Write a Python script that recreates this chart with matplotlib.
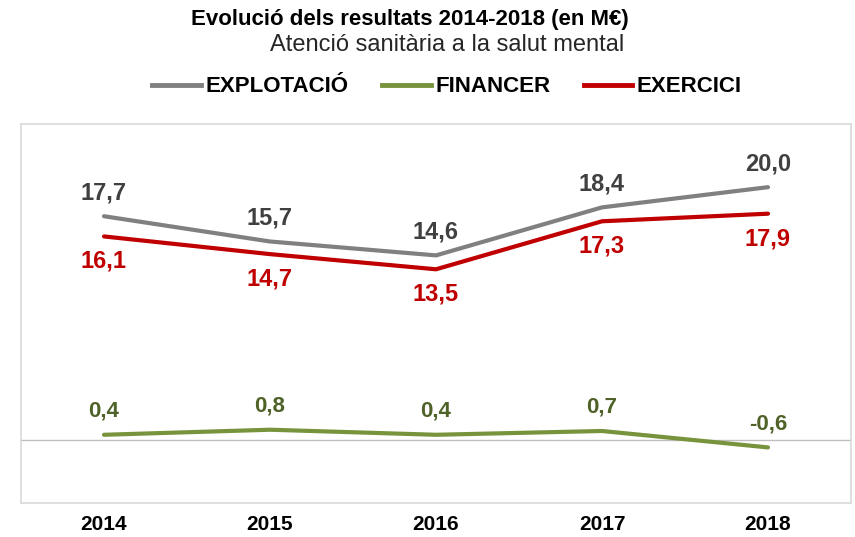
import matplotlib
matplotlib.use('Agg')
import matplotlib.pyplot as plt
from matplotlib.lines import Line2D

years = ['2014', '2015', '2016', '2017', '2018']
explotacio = [17.7, 15.7, 14.6, 18.4, 20.0]
financer = [0.4, 0.8, 0.4, 0.7, -0.6]
exercici = [16.1, 14.7, 13.5, 17.3, 17.9]

font = ['Liberation Sans', 'DejaVu Sans']
c_gray, c_green, c_red = '#808080', '#77933c', '#c00000'


def fmt(v):
    return f'{v:.1f}'.replace('.', ',')


fig = plt.figure(figsize=(8.55, 5.37), dpi=100)
ax = fig.add_axes([21/855, 34/537, 830/855, 379/537])

x = range(len(years))
ax.plot(x, explotacio, color=c_gray, lw=3, solid_capstyle='round', solid_joinstyle='round')
ax.plot(x, financer, color=c_green, lw=3, solid_capstyle='round', solid_joinstyle='round')
ax.plot(x, exercici, color=c_red, lw=3, solid_capstyle='round', solid_joinstyle='round')
ax.axhline(0, color='#bfbfbf', lw=1, zorder=0)

for i in x:
    ax.annotate(fmt(explotacio[i]), (i, explotacio[i]), xytext=(0, 17),
                textcoords='offset points', ha='center', va='center', fontsize=17,
                fontweight='bold', color='#404040', family=font)
    ax.annotate(fmt(exercici[i]), (i, exercici[i]), xytext=(0, -18),
                textcoords='offset points', ha='center', va='center', fontsize=17,
                fontweight='bold', color=c_red, family=font)
    ax.annotate(fmt(financer[i]), (i, financer[i]), xytext=(0, 17),
                textcoords='offset points', ha='center', va='center', fontsize=16,
                fontweight='bold', color='#4f6228', family=font)

ax.set_xlim(-0.5, 4.5)
ax.set_ylim(-5, 25)
ax.set_yticks([])
ax.set_xticks(list(x))
ax.set_xticklabels(years, fontsize=15, fontweight='bold', family=font)
ax.tick_params(axis='x', length=0, pad=9)
for s in ax.spines.values():
    s.set_color('#d9d9d9')
    s.set_linewidth(1.2)

fig.text(410/855, 1 - 19/537, 'Evolució dels resultats 2014-2018 (en M€)', ha='center', va='center',
         fontsize=16, fontweight='bold', family=font)
fig.text(447/855, 1 - 45/537, 'Atenció sanitària a la salut mental', ha='center', va='center',
         fontsize=17, family=font, color='#262626')

handles = [Line2D([], [], color=c, lw=3.5) for c in (c_gray, c_green, c_red)]
fig.legend(handles, ['EXPLOTACIÓ', 'FINANCER', 'EXERCICI'], loc='center',
           bbox_to_anchor=(447/855, 1 - 87/537), ncol=3, frameon=False,
           handlelength=2.2, handletextpad=0.2, columnspacing=1.5,
           prop={'family': font, 'weight': 'bold', 'size': 16})

fig.savefig('out.png', dpi=100)
